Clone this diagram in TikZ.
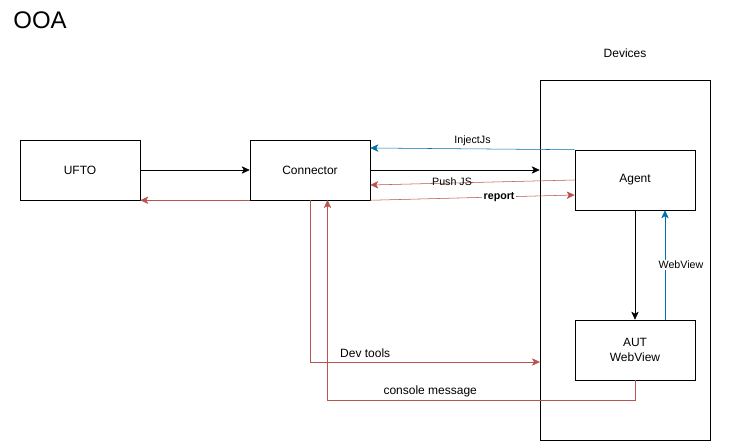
\documentclass[tikz,border=0pt]{standalone}
\usepackage{fontspec}
\setmainfont{Liberation Sans}
\usetikzlibrary{arrows.meta,calc}
\definecolor{linkred}{HTML}{B85450}
\definecolor{linkblue}{HTML}{006EAF}
\begin{document}
\begin{tikzpicture}[x=0.75pt,y=-0.75pt,>={Stealth[length=6pt,width=5.5pt,inset=1.5pt]},
    lbl/.style={font=\fontsize{8}{9.6}\selectfont,inner sep=1pt,text=black},
    biglbl/.style={font=\fontsize{9}{11}\selectfont,inner sep=1pt,text=black}]

      \useasboundingbox (0,0) rectangle (731,441);

      \node[font=\fontsize{18}{21}\selectfont] (title) at (40,20) {OOA};
      \node[biglbl] (devlabel) at (625,53) {Devices};
      \node[draw,minimum width=127.5pt,minimum height=270pt] (devices) at (625,260) {};

      \begin{scope}[every node/.style={draw,fill=white,minimum width=90pt,minimum height=45pt,
          font=\fontsize{9}{11}\selectfont,align=center}]
        \node (ufto)  at (80,170)  {UFTO};
        \node (conn)  at (310,170) {Connector};
        \node (agent) at (635,180) {Agent};
        \node (aut)   at (635,350) {AUT\\WebView};
      \end{scope}

      \coordinate (devin)  at (540,362);
      \coordinate (conin)  at (327.5,200);

      \begin{scope}[every node/.style={lbl}]
        \draw[->] (ufto.east) -- (conn.west);
        \draw[->] (conn.east) -- (devices.west |- conn.east);
        \draw[->] (agent.south) -- (aut.north);
        \draw[->,linkred] (conn.south west) -- (ufto.south east);
        \draw[->,linkblue] (agent.north west) -- node[above=1pt] {InjectJs} ($(conn.east)+(0,-22)$);
        \draw[->,linkred] (agent.west) -- node[pos=0.6,above=-3pt] {Push JS} ($(conn.east)+(0,15)$);
        \draw[->,linkred] (conn.south east) -- node[pos=0.63,fill=white,font=\fontsize{8}{9.6}\selectfont\bfseries] {report} ($(agent.west)+(0,15)$);
        \draw[->,linkblue] ($(aut.north)+(30,0)$) -- node[fill=white,xshift=12pt] {WebView} ($(agent.south)+(30,0)$);
        \draw[->,linkred] (conn.south) |- node[pos=0.62,above=2pt,biglbl] {Dev tools} (devin);
        \draw[->,linkred] (aut.south) -- ++(0,20) -| node[pos=0.333,above=1pt,biglbl] {console message} (conin);
      \end{scope}

    \end{tikzpicture}
\end{document}
